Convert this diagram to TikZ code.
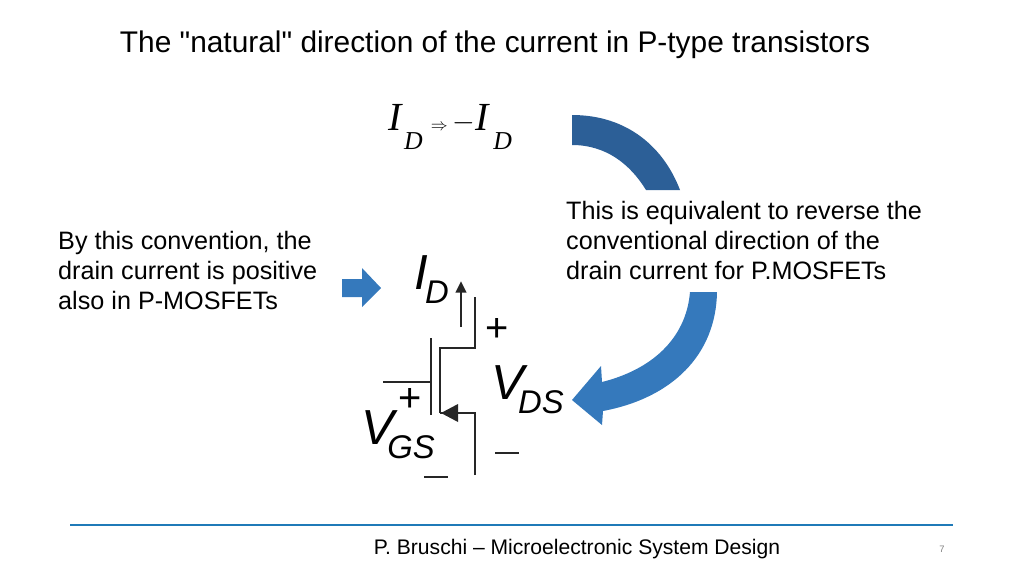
\documentclass[tikz,border=0pt]{standalone}
\usepackage{fontspec}
\setmainfont{Liberation Sans}[Ligatures=TeXOff]
\newfontfamily\serifit{Liberation Serif}
\usetikzlibrary{arrows.meta}
\definecolor{bandtop}{HTML}{2C5F97}
\definecolor{bandlow}{HTML}{3579BC}
\definecolor{rulecol}{HTML}{1F7AB8}
\begin{document}
\begin{tikzpicture}[x=0.03cm,y=-0.03cm,
    wire/.style={line width=2.3pt,black!85},
    body/.style={font=\fontsize{21.5}{25.5}\selectfont,align=left,anchor=north west,inner sep=0pt},
    biglbl/.style={font=\fontsize{42}{42}\selectfont\itshape,inner sep=0pt},
    sublbl/.style={font=\fontsize{28}{28}\selectfont\itshape,inner sep=0pt},
    sign/.style={font=\fontsize{34}{34}\selectfont,inner sep=0pt},
    minusbar/.style={fill=black!85,minimum width=20pt,minimum height=2.2pt,inner sep=0pt}]
  \useasboundingbox (0,0) rectangle (1024,576);

  % title and formula
  \node (title) at (495,45) {\fontsize{25.5}{30}\selectfont The "natural" direction of the current in P-type transistors};
  \node (formula) at (450,127) {\serifit\fontsize{34}{34}\selectfont\textit{I}\kern1pt\raisebox{-1.0ex}{\fontsize{22}{22}\selectfont\textit{D}}\kern7pt{\Large$\Rightarrow$}\kern4pt$-$\textit{I}\kern3pt\raisebox{-1.0ex}{\fontsize{22}{22}\selectfont\textit{D}}};

  % side texts
  \node[body] (left) at (58,231) {By this convention, the\\drain current is positive\\also in P-MOSFETs};
  \node[body] (right) at (566,201) {This is equivalent to reverse the\\conventional direction of the\\drain current for P.MOSFETs};

  % small block arrow
  \fill[bandlow] (342,279) -- (362,279) -- (362,268) -- (381,288) -- (362,307)
    -- (362,297) -- (342,297) -- cycle;

  % curved arrow, upper piece
  \fill[bandtop] (572,115) .. controls (628,115) and (664,148) .. (680,190)
    -- (646,190) .. controls (630,164) and (606,145) .. (572,145) -- cycle;
  % curved arrow, lower piece
  \fill[bandlow] (717,292) .. controls (716,355) and (672,398) .. (603,411)
    -- (602,425) -- (572,400) -- (601,366) -- (602,382)
    .. controls (650,370) and (686,340) .. (690,292) -- cycle;

  % transistor
  \coordinate (dtop) at (475,297);
  \coordinate (dmid) at (475,348);
  \coordinate (chd) at (440,348);
  \coordinate (chs) at (440,413);
  \coordinate (smid) at (475,413);
  \coordinate (sbot) at (475,475);
  \draw[wire] (dtop) -- (dmid) -- (chd) -- (chs);
  \draw[wire] (sbot) -- (smid) -- (chs);
  \fill[black!85] (441,413) -- (458,404) -- (458,422) -- cycle;
  \draw[wire] (431,338) -- (431,415);
  \draw[wire] (383,382) -- (431,382);
  \draw[wire,-{Triangle[length=10pt,width=9pt]}] (461,327) -- (461,281);

  % labels
  \node[biglbl] (id) at (421,273) {I};
  \node[sublbl] (idsub) at (437,292) {D};
  \node[sign] (dplus) at (497,330) {+};
  \node[biglbl] (vds) at (508,383) {V};
  \node[sublbl] (vdssub) at (541,402) {DS};
  \node[minusbar] (dminus) at (507,453) {};
  \node[sign] (gplus) at (410,400) {+};
  \node[biglbl] (vgs) at (378,428) {V};
  \node[sublbl] (vgssub) at (411,447) {GS};
  \node[minusbar] (gminus) at (436,477) {};

  % footer
  \draw[rulecol,line width=2.4pt] (70,525) -- (953,525);
  \node (footer) at (577,549) {\fontsize{18}{21}\selectfont P. Bruschi – Microelectronic System Design};
  \node[text=gray] (page) at (942,549) {\fontsize{8}{10}\selectfont 7};
\end{tikzpicture}
\end{document}
